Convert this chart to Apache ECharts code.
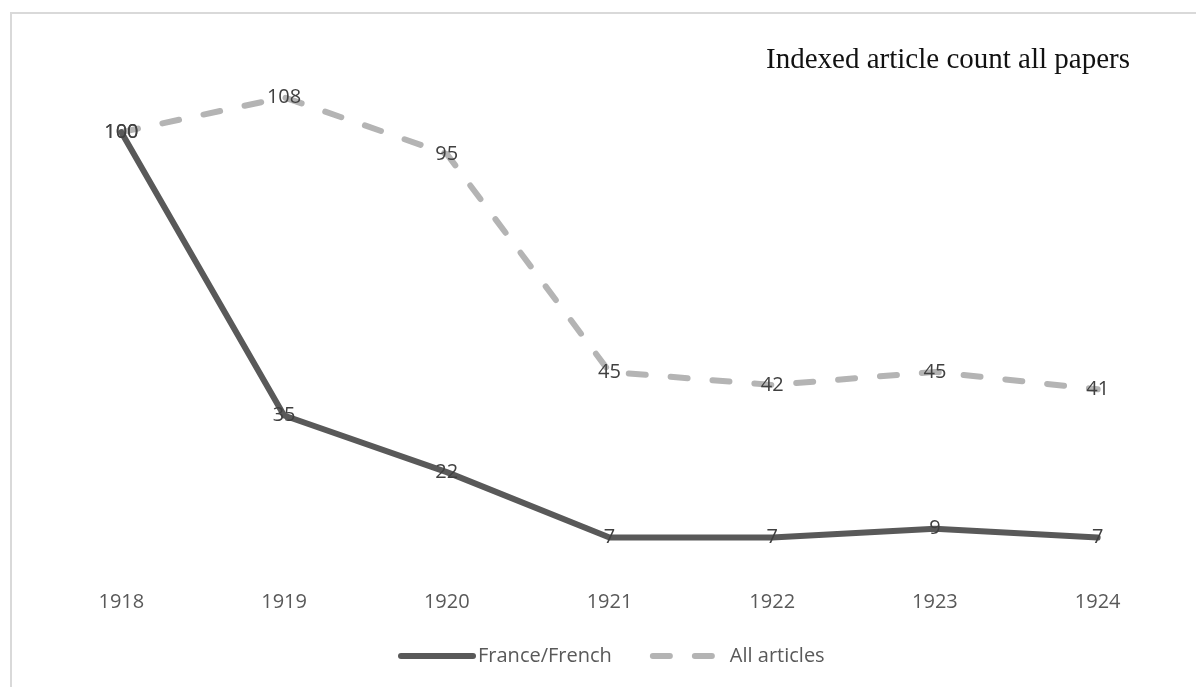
<!DOCTYPE html>
<html>
<head>
<meta charset="utf-8">
<script src="https://cdn.jsdelivr.net/npm/echarts@6/dist/echarts.min.js"></script>
<style>
  html, body { margin: 0; padding: 0; background: #fff; }
  #chart { width: 1196px; height: 687px; }
</style>
</head>
<body>
<div id="chart"></div>
<script>
// Indexed article counts (1918 = 100)
const years = ['1918', '1919', '1920', '1921', '1922', '1923', '1924'];
const franceFrench = [100, 35, 22, 7, 7, 9, 7];
const allArticles = [100, 108, 95, 45, 42, 45, 41];

const sansFont = '"Open Sans", "Noto Sans", sans-serif';
const labelStyle = {
  show: true,
  position: [0, 0],
  align: 'center',
  verticalAlign: 'middle',
  color: '#404040',
  textBorderWidth: 0,
  fontFamily: sansFont,
  fontSize: 20
};

// value labels sit centred on each point, on top of the lines
function labelSeries(name, data) {
  return {
    name: name,
    type: 'scatter',
    data: data,
    symbol: 'circle',
    symbolSize: 0,
    silent: true,
    itemStyle: { color: '#404040', opacity: 1 },
    label: labelStyle,
    z: 5
  };
}

const chart = echarts.init(document.getElementById('chart'), null, { renderer: 'canvas' });

chart.setOption({
  backgroundColor: '#ffffff',
  animation: false,
  title: {
    text: 'Indexed article count all papers',
    right: 61,
    top: 41,
    textStyle: {
      fontFamily: '"Liberation Serif", "DejaVu Serif", serif',
      fontSize: 29,
      fontWeight: 'normal',
      color: '#111111'
    }
  },
  graphic: [{
    type: 'rect',
    silent: true,
    shape: { x: 11, y: 13, width: 1300, height: 800 },
    style: { fill: 'none', stroke: '#d9d9d9', lineWidth: 2 }
  }],
  legend: {
    left: 393,
    top: 641,
    itemWidth: 72,
    itemHeight: 14,
    itemGap: 38,
    itemStyle: { opacity: 0 },
    lineStyle: { width: 6, cap: 'round' },
    textStyle: { color: '#595959', fontFamily: sansFont, fontSize: 20 },
    data: ['France/French', 'All articles']
  },
  grid: { left: 40, right: 17, top: 45, bottom: 119 },
  xAxis: {
    type: 'category',
    data: years,
    boundaryGap: true,
    axisLine: { show: false },
    axisTick: { show: false },
    axisLabel: { color: '#595959', fontFamily: sansFont, fontSize: 20, margin: 24 }
  },
  yAxis: {
    type: 'value',
    min: 0,
    max: 120,
    interval: 20,
    show: false,
    splitLine: { show: false }
  },
  series: [
    {
      name: 'France/French',
      type: 'line',
      data: franceFrench,
      symbol: 'none',
      color: '#595959',
      lineStyle: { color: '#595959', width: 6, cap: 'round', join: 'round' },
      z: 3
    },
    {
      name: 'All articles',
      type: 'line',
      data: allArticles,
      symbol: 'none',
      color: '#b4b4b4',
      lineStyle: { color: '#b4b4b4', width: 6, type: [17, 25], cap: 'round', join: 'round' },
      z: 2
    },
    labelSeries('France/French values', franceFrench),
    labelSeries('All articles values', allArticles)
  ]
});
</script>
</body>
</html>
